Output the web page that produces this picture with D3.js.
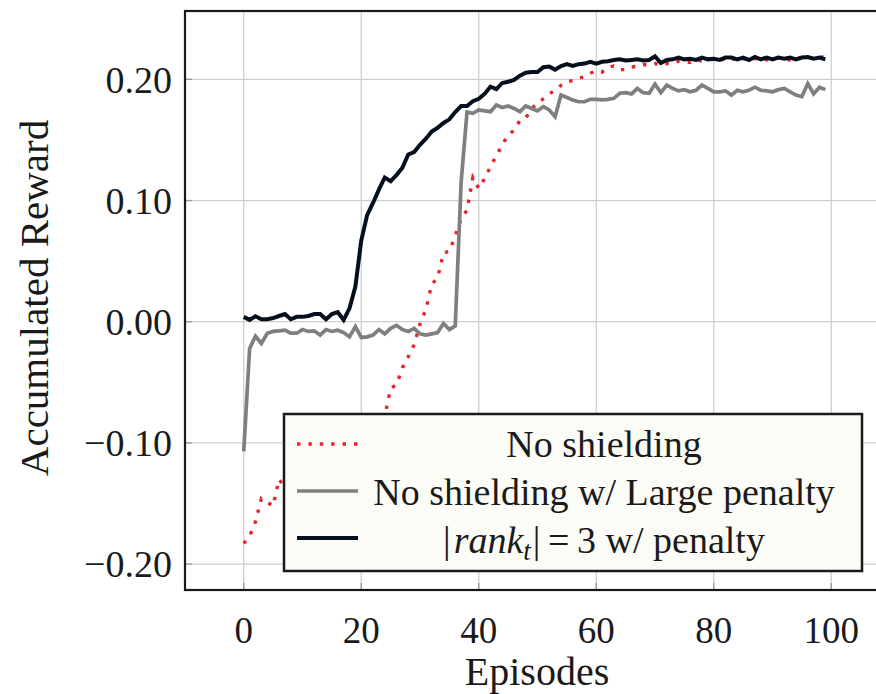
<!DOCTYPE html>
<html>
<head>
<meta charset="utf-8">
<script src="https://cdn.jsdelivr.net/npm/d3@7"></script>
<style>
  body { margin: 0; background: #fff; }
  svg { display: block; font-family: "Liberation Serif", "DejaVu Serif", serif; }
</style>
</head>
<body>
<div id="chart"></div>
<script>
// reward per episode (index = episode)
const noShielding = [
  -0.183, -0.177, -0.165, -0.146, -0.149, -0.152, -0.130, -0.137, -0.128, -0.131,
  -0.124, -0.126, -0.118, -0.121, -0.114, -0.116, -0.109, -0.111, -0.104, -0.106,
  -0.099, -0.101, -0.094, -0.090, -0.078, -0.055, -0.052, -0.038, -0.029, -0.019,
  -0.002, 0.010, 0.031, 0.036, 0.057, 0.058, 0.071, 0.085, 0.092, 0.119,
  0.110, 0.118, 0.128, 0.137, 0.146, 0.154, 0.158, 0.166, 0.168, 0.176,
  0.180, 0.184, 0.188, 0.191, 0.195, 0.198, 0.199, 0.201, 0.202, 0.205,
  0.207, 0.206, 0.210, 0.211, 0.208, 0.208, 0.210, 0.211, 0.212, 0.212,
  0.213, 0.212, 0.213, 0.213, 0.215, 0.214, 0.214, 0.216, 0.215, 0.216,
  0.217, 0.216, 0.217, 0.216, 0.218, 0.217, 0.216, 0.217, 0.218, 0.216,
  0.217, 0.218, 0.217, 0.216, 0.218, 0.217, 0.218, 0.217, 0.218, 0.219
];
const largePenalty = [
  -0.107, -0.022, -0.012, -0.018, -0.0096, -0.008, -0.0075, -0.007, -0.0095, -0.0095,
  -0.0065, -0.008, -0.0075, -0.011, -0.0065, -0.008, -0.007, -0.009, -0.0125, -0.004,
  -0.013, -0.0125, -0.011, -0.0065, -0.010, -0.0055, -0.003, -0.0065, -0.008, -0.0055,
  -0.010, -0.011, -0.010, -0.009, -0.0015, -0.0065, -0.0035, 0.115, 0.173, 0.172,
  0.1747, 0.174, 0.1733, 0.1788, 0.1768, 0.178, 0.176, 0.1733, 0.178, 0.176,
  0.174, 0.1775, 0.1747, 0.1692, 0.187, 0.185, 0.183, 0.1815, 0.1815, 0.1835,
  0.1835, 0.183, 0.1835, 0.1843, 0.1885, 0.189, 0.188, 0.1925, 0.189, 0.1885,
  0.196, 0.189, 0.1953, 0.1925, 0.1905, 0.1915, 0.1897, 0.191, 0.1953, 0.1925,
  0.1897, 0.1897, 0.1905, 0.187, 0.191, 0.1897, 0.191, 0.1935, 0.191, 0.1905,
  0.1897, 0.1915, 0.1925, 0.1897, 0.187, 0.1857, 0.1965, 0.188, 0.1935, 0.1915
];
const rankPenalty = [
  0.004, 0.0015, 0.0045, 0.002, 0.002, 0.003, 0.0047, 0.0063, 0.002, 0.004,
  0.004, 0.0047, 0.0063, 0.0063, 0.002, 0.0063, 0.008, 0.0015, 0.011, 0.029,
  0.067, 0.088, 0.098, 0.109, 0.119, 0.116, 0.121, 0.127, 0.138, 0.140,
  0.146, 0.151, 0.157, 0.160, 0.164, 0.167, 0.173, 0.178, 0.178, 0.182,
  0.184, 0.188, 0.194, 0.192, 0.197, 0.198, 0.1995, 0.203, 0.2055, 0.206,
  0.206, 0.210, 0.2105, 0.208, 0.211, 0.2125, 0.211, 0.2125, 0.213, 0.2145,
  0.213, 0.2145, 0.215, 0.216, 0.2165, 0.2155, 0.216, 0.2165, 0.2155, 0.216,
  0.219, 0.2135, 0.216, 0.2165, 0.218, 0.2165, 0.217, 0.216, 0.218, 0.2165,
  0.217, 0.216, 0.218, 0.218, 0.2165, 0.218, 0.216, 0.2185, 0.2165, 0.218,
  0.2165, 0.218, 0.217, 0.218, 0.2165, 0.218, 0.2185, 0.217, 0.218, 0.2165
];

const xTicks = [0, 20, 40, 60, 80, 100];
const yTicks = [-0.2, -0.1, 0, 0.1, 0.2];
const seriesNames = ['No shielding', 'No shielding w/ Large penalty', 'rank'];

function drawChart() {
    const width = 876;
    const height = 694;
    const plot = { left: 185, top: 11, bottom: 590, right: 890 };

    const svg = d3.select('#chart')
        .append('svg')
        .attr('width', width)
        .attr('height', height);

    svg.append('rect').attr('width', width).attr('height', height).attr('fill', '#fff');

    const xScale = d3.scaleLinear().domain([-10, 110]).range([plot.left, plot.right]);
    const yScale = d3.scaleLinear().domain([-0.2214, 0.2564]).range([plot.bottom, plot.top]);

    svg.append('defs').append('clipPath').attr('id', 'clip')
        .append('rect')
        .attr('x', plot.left).attr('y', plot.top)
        .attr('width', plot.right - plot.left).attr('height', plot.bottom - plot.top);

    // grid
    const grid = svg.append('g').attr('class', 'grid').attr('stroke', '#cfcfcf').attr('stroke-width', 1.3);
    grid.selectAll('.vx').data(xTicks).join('line')
        .attr('x1', d => xScale(d)).attr('x2', d => xScale(d))
        .attr('y1', plot.top).attr('y2', plot.bottom);
    grid.selectAll('.hy').data(yTicks).join('line')
        .attr('class', 'hy')
        .attr('y1', d => yScale(d)).attr('y2', d => yScale(d))
        .attr('x1', plot.left).attr('x2', plot.right);

    // small ticks inside the frame
    const ticks = svg.append('g').attr('stroke', '#999').attr('stroke-width', 1.3);
    ticks.selectAll('.ty').data(yTicks).join('line')
        .attr('class', 'ty')
        .attr('x1', plot.left).attr('x2', plot.left + 7)
        .attr('y1', d => yScale(d)).attr('y2', d => yScale(d));
    ticks.selectAll('.tx').data(xTicks).join('line')
        .attr('class', 'tx')
        .attr('x1', d => xScale(d)).attr('x2', d => xScale(d))
        .attr('y1', plot.bottom).attr('y2', plot.bottom - 7);

    const line = d3.line()
        .x((d, i) => xScale(i))
        .y(d => yScale(d));

    const lines = svg.append('g').attr('clip-path', 'url(#clip)').attr('fill', 'none')
        .attr('stroke-linejoin', 'miter');

    lines.append('path').datum(noShielding)
        .attr('d', line)
        .attr('stroke', '#e8222c')
        .attr('stroke-width', 3.4)
        .attr('stroke-dasharray', '3.4 8');

    lines.append('path').datum(largePenalty)
        .attr('d', line)
        .attr('stroke', '#7f7f7f')
        .attr('stroke-width', 3.7);

    lines.append('path').datum(rankPenalty)
        .attr('d', line)
        .attr('stroke', '#06101c')
        .attr('stroke-width', 4);

    // frame
    svg.append('rect')
        .attr('x', plot.left).attr('y', plot.top)
        .attr('width', plot.right - plot.left).attr('height', plot.bottom - plot.top)
        .attr('fill', 'none').attr('stroke', '#1a1a1a').attr('stroke-width', 2.2);

    // tick labels
    const yFormat = d3.format('.2f');
    svg.append('g').selectAll('text').data(yTicks).join('text')
        .attr('x', 172)
        .attr('y', d => yScale(d))
        .attr('dy', '0.35em')
        .attr('text-anchor', 'end')
        .attr('font-size', 38)
        .attr('fill', '#1a1a1a')
        .text(d => yFormat(d));

    svg.append('g').selectAll('text').data(xTicks).join('text')
        .attr('x', d => xScale(d))
        .attr('y', 643)
        .attr('text-anchor', 'middle')
        .attr('font-size', 37)
        .attr('fill', '#1a1a1a')
        .text(d => d);

    svg.append('text')
        .attr('x', 537).attr('y', 685)
        .attr('text-anchor', 'middle')
        .attr('font-size', 40)
        .attr('fill', '#1a1a1a')
        .text('Episodes');

    svg.append('text')
        .attr('transform', 'translate(48,298) rotate(-90)')
        .attr('text-anchor', 'middle')
        .attr('font-size', 41)
        .attr('fill', '#1a1a1a')
        .text('Accumulated Reward');

    // legend
    const legend = svg.append('g');
    legend.append('rect')
        .attr('x', 284).attr('y', 414)
        .attr('width', 578).attr('height', 157)
        .attr('fill', '#fcfcf6').attr('stroke', '#1a1a1a').attr('stroke-width', 2.5);

    const rowY = [444, 491, 538];
    const rowStyle = [
        { stroke: '#e8222c', width: 3.4, dash: '3.4 8' },
        { stroke: '#7f7f7f', width: 3.7, dash: null },
        { stroke: '#06101c', width: 4, dash: null }
    ];
    rowStyle.forEach((s, i) => {
        legend.append('line')
            .attr('x1', 297).attr('x2', 358)
            .attr('y1', rowY[i]).attr('y2', rowY[i])
            .attr('stroke', s.stroke).attr('stroke-width', s.width)
            .attr('stroke-dasharray', s.dash);
    });

    const textX = 604;
    legend.append('text').attr('x', textX).attr('y', 457)
        .attr('text-anchor', 'middle').attr('font-size', 38).attr('fill', '#1a1a1a')
        .text(seriesNames[0]);
    legend.append('text').attr('x', textX).attr('y', 505)
        .attr('text-anchor', 'middle').attr('font-size', 38).attr('fill', '#1a1a1a')
        .text(seriesNames[1]);

    const t3 = legend.append('text').attr('x', textX).attr('y', 553)
        .attr('text-anchor', 'middle').attr('font-size', 38).attr('fill', '#1a1a1a');
    t3.append('tspan').text('|');
    t3.append('tspan').attr('font-style', 'italic').attr('dx', 3).text(seriesNames[2]);
    t3.append('tspan').attr('font-style', 'italic').attr('font-size', 27).attr('dy', 7).text('t');
    t3.append('tspan').attr('dy', -7).attr('dx', 2).text('|\u2009=\u20093 w/ penalty');
}

drawChart();
</script>
</body>
</html>
